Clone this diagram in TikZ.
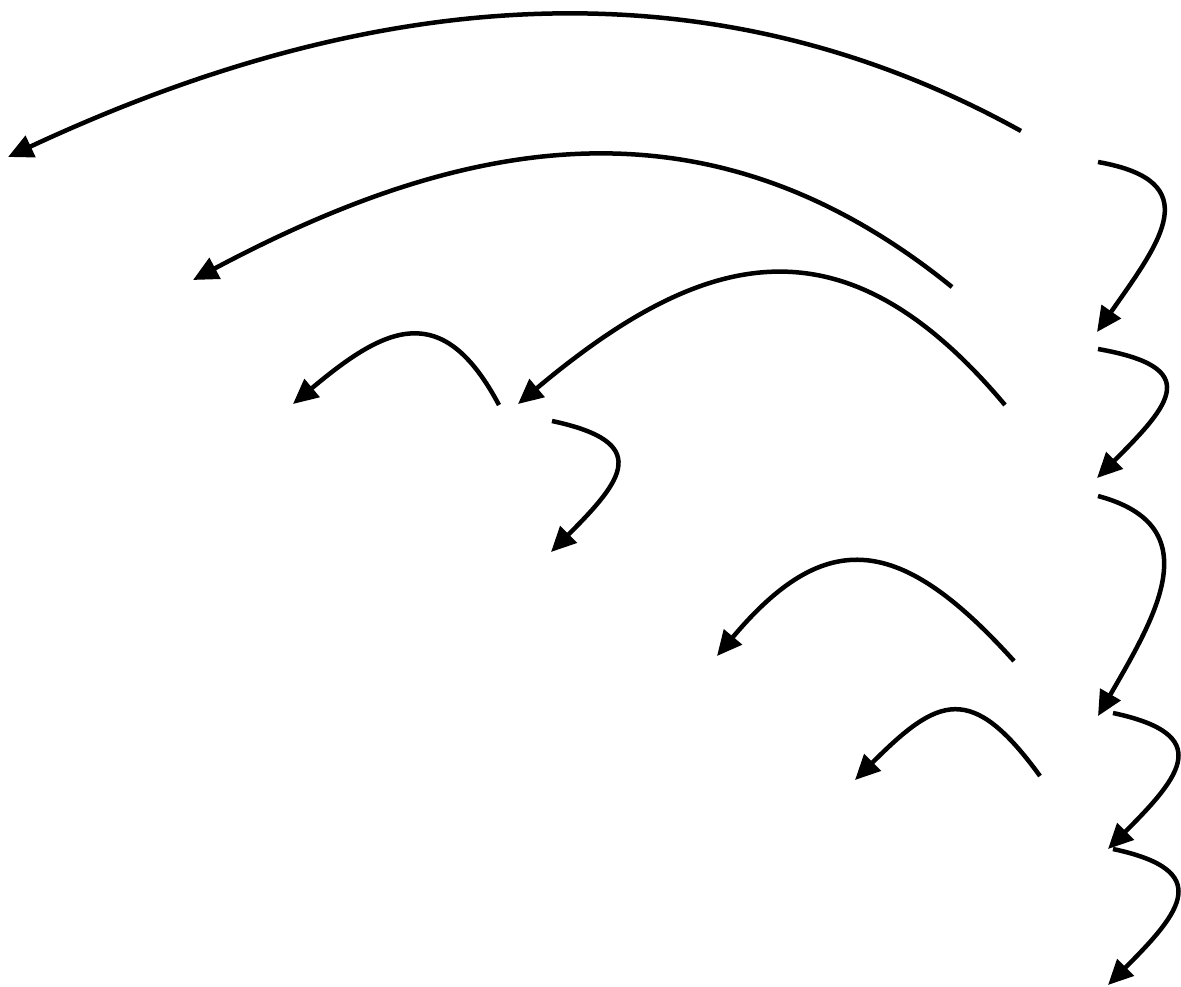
\documentclass[tikz,border=0pt]{standalone}
\usepackage{tikz}
\usetikzlibrary{arrows.meta,positioning}
\tikzset{
  hop/.style={-{Triangle[length=5mm,width=4.6mm]}, line width=0.09cm, draw=black},
}
\begin{document}
\begin{tikzpicture}
    \useasboundingbox (0,0) rectangle (23.62,-19.72);
    % ends of the long arcs to the left
    \coordinate (s1) at (20.42,-2.62);  \coordinate (e1) at (0.16,-3.14);
    \coordinate (s2) at (19.04,-5.74);  \coordinate (e2) at (3.86,-5.60);
    \coordinate (s3) at (20.10,-8.10);  \coordinate (e3) at (10.36,-8.08);
    \coordinate (s4) at (9.98,-8.10);   \coordinate (e4) at (5.86,-8.08);
    \coordinate (s9) at (20.28,-13.22); \coordinate (e9) at (14.34,-13.12);
    \coordinate (s10) at (20.80,-15.52); \coordinate (e10) at (17.10,-15.60);
    % ends of the hooks going down
    \coordinate (s5) at (11.04,-8.42);  \coordinate (e5) at (11.02,-11.04);
    \coordinate (s6) at (21.96,-3.24);  \coordinate (e6) at (21.94,-6.64);
    \coordinate (s7) at (21.96,-6.98);  \coordinate (e7) at (21.94,-9.56);
    \coordinate (s8) at (21.96,-9.92);  \coordinate (e8) at (21.96,-14.32);
    \coordinate (s11) at (22.26,-14.26); \coordinate (e11) at (22.16,-16.98);
    \coordinate (s12) at (22.26,-16.98); \coordinate (e12) at (22.16,-19.70);

    \draw[hop] (s1) to[out=151, in=25, looseness=0.95] (e1);
    \draw[hop] (s2) to[out=141, in=28, looseness=1.05] (e2);
    \draw[hop] (s3) to[out=130, in=40, looseness=1.3] (e3);
    \draw[hop] (s4) to[out=118, in=40, looseness=1.5] (e4);
    \draw[hop] (s9) to[out=132, in=50, looseness=1.46] (e9);
    \draw[hop] (s10) to[out=126, in=45, looseness=1.62] (e10);

    \draw[hop] (s5) to[out=-12, in=45, looseness=2.0] (e5);
    \draw[hop] (s6) to[out=-10, in=55, looseness=1.67] (e6);
    \draw[hop] (s7) to[out=-10, in=45, looseness=2.1] (e7);
    \draw[hop] (s8) to[out=-15, in=60, looseness=1.35] (e8);
    \draw[hop] (s11) to[out=-12, in=45, looseness=1.95] (e11);
    \draw[hop] (s12) to[out=-12, in=45, looseness=1.95] (e12);
\end{tikzpicture}
\end{document}
